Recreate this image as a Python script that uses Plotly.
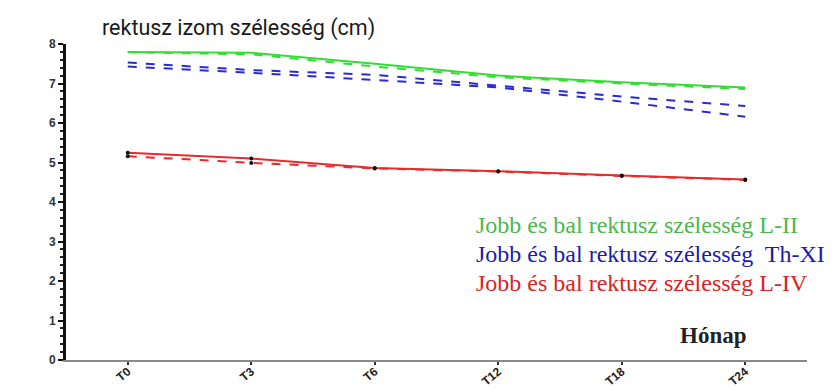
import plotly.graph_objects as go

months = ["T0", "T3", "T6", "T12", "T18", "T24"]

# rectus width (cm), right and left side, per level
l2_right = [7.80, 7.78, 7.50, 7.20, 7.03, 6.90]
l2_left = [7.79, 7.74, 7.43, 7.16, 7.00, 6.86]
th11_right = [7.53, 7.34, 7.22, 6.95, 6.67, 6.43]
th11_left = [7.43, 7.27, 7.09, 6.90, 6.54, 6.16]
l4_right = [5.25, 5.10, 4.86, 4.78, 4.67, 4.57]
l4_left = [5.16, 4.99, 4.85, 4.77, 4.66, 4.56]

legend_lines = [
    ("Jobb és bal rektusz szélesség L-II", "#4cb84c"),
    ("Jobb és bal rektusz szélesség  Th-XI", "#1c1ca8"),
    ("Jobb és bal rektusz szélesség L-IV", "#d82424"),
]

GREEN = "#33dd33"
BLUE = "#2a2ad8"
RED = "#e82a2a"

fig = go.Figure()

def add_line(values, color, dash, markers=False):
    fig.add_trace(go.Scatter(
        x=months, y=values, mode="lines+markers" if markers else "lines",
        line=dict(color=color, width=2, dash=dash),
        marker=dict(color="#111111", size=4, symbol="circle"),
        showlegend=False, hoverinfo="skip",
    ))

add_line(l2_right, GREEN, "solid")
add_line(l2_left, GREEN, "dash")
add_line(th11_right, BLUE, "dash")
add_line(th11_left, BLUE, "dash")
add_line(l4_right, RED, "solid", markers=True)
add_line(l4_left, RED, "dash", markers=True)

W, H = 838, 390
L, R, T, B = 66, 31, 44, 30

def px_to_paper(x, y):
    return (x - L) / (W - L - R), 1 - (y - T) / (H - T - B)

for i, (txt, col) in enumerate(legend_lines):
    px, py = px_to_paper(474, 225 + 29 * i)
    fig.add_annotation(
        text=txt, x=px, y=py, xref="paper", yref="paper",
        showarrow=False, xanchor="left", yanchor="middle",
        font=dict(family="Liberation Serif", size=24, color=col),
    )

px, py = px_to_paper(678, 335)
fig.add_annotation(
    text="<b>Hónap</b>", x=px, y=py, xref="paper", yref="paper",
    showarrow=False, xanchor="left", yanchor="middle",
    font=dict(family="Liberation Serif", size=23, color="#222222"),
)

px, py = px_to_paper(100, 28)
fig.add_annotation(
    text="rektusz izom szélesség (cm)", x=px, y=py, xref="paper", yref="paper",
    showarrow=False, xanchor="left", yanchor="middle",
    font=dict(family="Roboto", size=21.5, color="#1a1a1a"),
)

fig.update_layout(
    width=W, height=H,
    margin=dict(l=L, r=R, t=T, b=B),
    paper_bgcolor="white", plot_bgcolor="white",
    xaxis=dict(
        type="category", range=[-0.5, 5.5], automargin=False,
        showgrid=False, zeroline=False,
        showline=True, linecolor="#8a8a8a", linewidth=2,
        ticks="outside", ticklen=3, tickwidth=2, tickcolor="#333333",
        tickangle=-40, ticklabelstandoff=-5,
        tickfont=dict(family="Liberation Sans", size=12, color="#222222", weight="bold"),
    ),
    yaxis=dict(
        range=[0, 8], dtick=1, automargin=False,
        showgrid=False, zeroline=False,
        showline=True, linecolor="#111111", linewidth=3,
        ticks="outside", ticklen=5, tickwidth=2, tickcolor="#111111",
        minor=dict(ticks="outside", dtick=0.2, ticklen=3, tickwidth=1.5, tickcolor="#222222"),
        tickfont=dict(family="Liberation Sans", size=12, color="#333333", weight="bold"),
    ),
)

fig.write_html("out.html")
